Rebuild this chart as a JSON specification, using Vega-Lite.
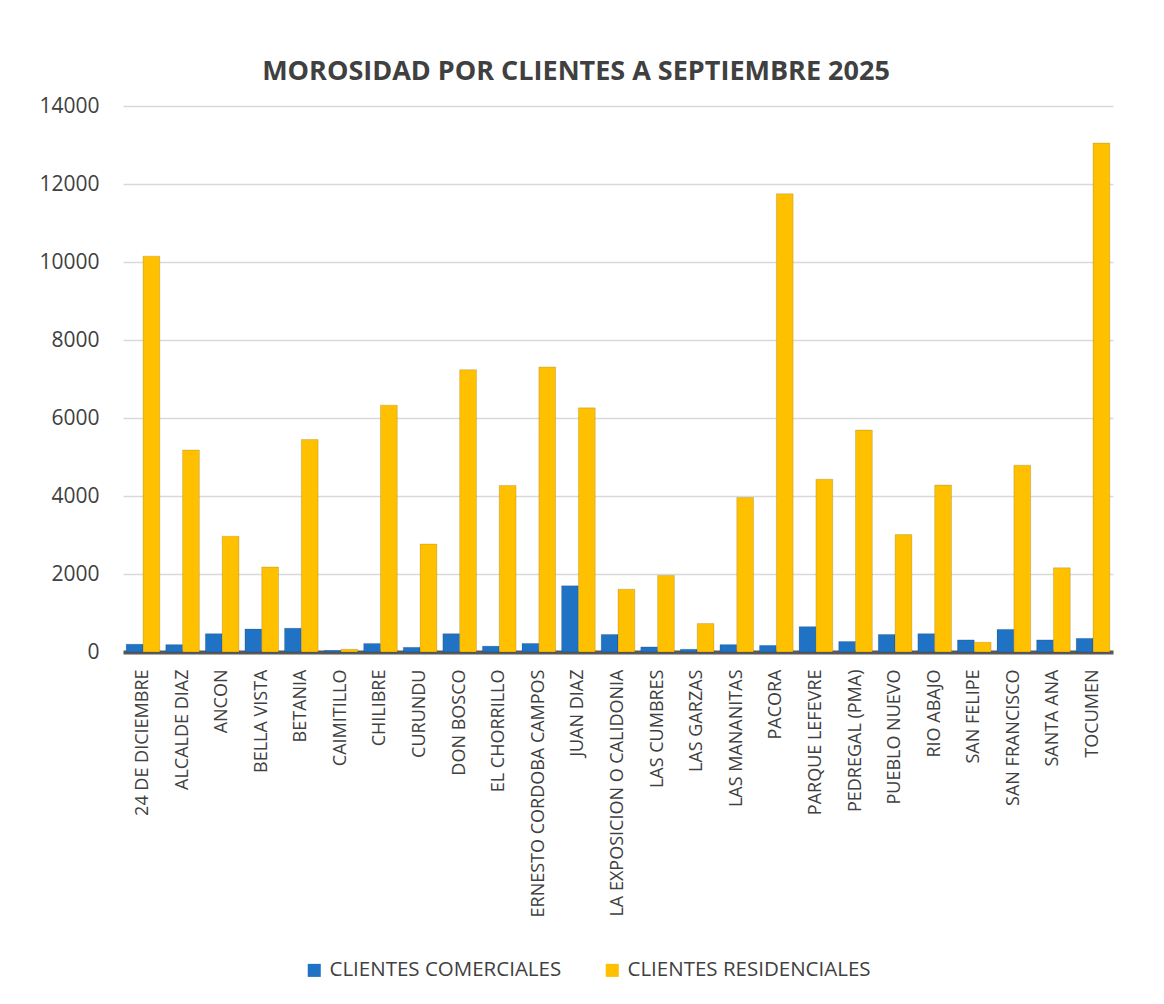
{
  "$schema": "https://vega.github.io/schema/vega-lite/v6.json",
  "width": 990,
  "height": 546,
  "padding": {"left": 38, "top": 58, "right": 40, "bottom": 10},
  "background": "white",
  "title": {
    "text": "MOROSIDAD POR CLIENTES A SEPTIEMBRE 2025",
    "font": "Open Sans",
    "fontSize": 27,
    "fontWeight": "bold",
    "color": "#404040",
    "anchor": "middle",
    "frame": "bounds",
    "offset": 9
  },
  "data": {
    "values": [
      {"zona": "24 DE DICIEMBRE", "tipo": "CLIENTES COMERCIALES", "valor": 200},
      {"zona": "24 DE DICIEMBRE", "tipo": "CLIENTES RESIDENCIALES", "valor": 10150},
      {"zona": "ALCALDE DIAZ", "tipo": "CLIENTES COMERCIALES", "valor": 190},
      {"zona": "ALCALDE DIAZ", "tipo": "CLIENTES RESIDENCIALES", "valor": 5180},
      {"zona": "ANCON", "tipo": "CLIENTES COMERCIALES", "valor": 470},
      {"zona": "ANCON", "tipo": "CLIENTES RESIDENCIALES", "valor": 2970},
      {"zona": "BELLA VISTA", "tipo": "CLIENTES COMERCIALES", "valor": 590},
      {"zona": "BELLA VISTA", "tipo": "CLIENTES RESIDENCIALES", "valor": 2180},
      {"zona": "BETANIA", "tipo": "CLIENTES COMERCIALES", "valor": 610},
      {"zona": "BETANIA", "tipo": "CLIENTES RESIDENCIALES", "valor": 5450},
      {"zona": "CAIMITILLO", "tipo": "CLIENTES COMERCIALES", "valor": 40},
      {"zona": "CAIMITILLO", "tipo": "CLIENTES RESIDENCIALES", "valor": 70},
      {"zona": "CHILIBRE", "tipo": "CLIENTES COMERCIALES", "valor": 220},
      {"zona": "CHILIBRE", "tipo": "CLIENTES RESIDENCIALES", "valor": 6330},
      {"zona": "CURUNDU", "tipo": "CLIENTES COMERCIALES", "valor": 120},
      {"zona": "CURUNDU", "tipo": "CLIENTES RESIDENCIALES", "valor": 2770},
      {"zona": "DON BOSCO", "tipo": "CLIENTES COMERCIALES", "valor": 470},
      {"zona": "DON BOSCO", "tipo": "CLIENTES RESIDENCIALES", "valor": 7240},
      {"zona": "EL CHORRILLO", "tipo": "CLIENTES COMERCIALES", "valor": 150},
      {"zona": "EL CHORRILLO", "tipo": "CLIENTES RESIDENCIALES", "valor": 4270},
      {"zona": "ERNESTO CORDOBA CAMPOS", "tipo": "CLIENTES COMERCIALES", "valor": 220},
      {"zona": "ERNESTO CORDOBA CAMPOS", "tipo": "CLIENTES RESIDENCIALES", "valor": 7310},
      {"zona": "JUAN DIAZ", "tipo": "CLIENTES COMERCIALES", "valor": 1700},
      {"zona": "JUAN DIAZ", "tipo": "CLIENTES RESIDENCIALES", "valor": 6260},
      {"zona": "LA EXPOSICION O CALIDONIA", "tipo": "CLIENTES COMERCIALES", "valor": 450},
      {"zona": "LA EXPOSICION O CALIDONIA", "tipo": "CLIENTES RESIDENCIALES", "valor": 1610},
      {"zona": "LAS CUMBRES", "tipo": "CLIENTES COMERCIALES", "valor": 130},
      {"zona": "LAS CUMBRES", "tipo": "CLIENTES RESIDENCIALES", "valor": 1960},
      {"zona": "LAS GARZAS", "tipo": "CLIENTES COMERCIALES", "valor": 70},
      {"zona": "LAS GARZAS", "tipo": "CLIENTES RESIDENCIALES", "valor": 730},
      {"zona": "LAS MANANITAS", "tipo": "CLIENTES COMERCIALES", "valor": 190},
      {"zona": "LAS MANANITAS", "tipo": "CLIENTES RESIDENCIALES", "valor": 3960},
      {"zona": "PACORA", "tipo": "CLIENTES COMERCIALES", "valor": 170},
      {"zona": "PACORA", "tipo": "CLIENTES RESIDENCIALES", "valor": 11750},
      {"zona": "PARQUE LEFEVRE", "tipo": "CLIENTES COMERCIALES", "valor": 650},
      {"zona": "PARQUE LEFEVRE", "tipo": "CLIENTES RESIDENCIALES", "valor": 4430},
      {"zona": "PEDREGAL (PMA)", "tipo": "CLIENTES COMERCIALES", "valor": 270},
      {"zona": "PEDREGAL (PMA)", "tipo": "CLIENTES RESIDENCIALES", "valor": 5690},
      {"zona": "PUEBLO NUEVO", "tipo": "CLIENTES COMERCIALES", "valor": 450},
      {"zona": "PUEBLO NUEVO", "tipo": "CLIENTES RESIDENCIALES", "valor": 3010},
      {"zona": "RIO ABAJO", "tipo": "CLIENTES COMERCIALES", "valor": 470},
      {"zona": "RIO ABAJO", "tipo": "CLIENTES RESIDENCIALES", "valor": 4280},
      {"zona": "SAN FELIPE", "tipo": "CLIENTES COMERCIALES", "valor": 310},
      {"zona": "SAN FELIPE", "tipo": "CLIENTES RESIDENCIALES", "valor": 250},
      {"zona": "SAN FRANCISCO", "tipo": "CLIENTES COMERCIALES", "valor": 580},
      {"zona": "SAN FRANCISCO", "tipo": "CLIENTES RESIDENCIALES", "valor": 4790},
      {"zona": "SANTA ANA", "tipo": "CLIENTES COMERCIALES", "valor": 310},
      {"zona": "SANTA ANA", "tipo": "CLIENTES RESIDENCIALES", "valor": 2160},
      {"zona": "TOCUMEN", "tipo": "CLIENTES COMERCIALES", "valor": 350},
      {"zona": "TOCUMEN", "tipo": "CLIENTES RESIDENCIALES", "valor": 13050}
    ]
  },
  "mark": {"type": "bar", "stroke": "#00000022", "strokeWidth": 1},
  "encoding": {
    "x": {
      "field": "zona",
      "type": "nominal",
      "sort": null,
      "title": null,
      "scale": {"paddingInner": 0.15, "paddingOuter": 0.08},
      "axis": {
        "labelAngle": -90,
        "labelFont": "Open Sans",
        "labelFontSize": 18,
        "labelColor": "#404040",
        "labelPadding": 17,
        "ticks": false,
        "domainColor": "#595959",
        "domainWidth": 4,
        "labelLimit": 400
      }
    },
    "xOffset": {"field": "tipo", "type": "nominal", "sort": ["CLIENTES COMERCIALES", "CLIENTES RESIDENCIALES"]},
    "y": {
      "field": "valor",
      "type": "quantitative",
      "title": null,
      "scale": {"domain": [0, 14000], "nice": false},
      "axis": {
        "values": [0, 2000, 4000, 6000, 8000, 10000, 12000, 14000],
        "format": "d",
        "labelFont": "Open Sans",
        "labelFontSize": 21,
        "labelColor": "#404040",
        "labelPadding": 24,
        "ticks": false,
        "domain": false,
        "gridColor": "#D9D9D9",
        "gridWidth": 1.5
      }
    },
    "color": {
      "field": "tipo",
      "type": "nominal",
      "scale": {"domain": ["CLIENTES COMERCIALES", "CLIENTES RESIDENCIALES"], "range": ["#1F72C4", "#FFC000"]},
      "legend": {
        "title": null,
        "orient": "none",
        "direction": "horizontal",
        "legendX": 181,
        "legendY": 854,
        "symbolType": "square",
        "symbolSize": 170,
        "symbolStrokeWidth": 0,
        "labelFont": "Open Sans",
        "labelFontSize": 20.5,
        "labelColor": "#404040",
        "labelOffset": 5,
        "columnPadding": 40,
        "labelLimit": 400
      }
    }
  },
  "config": {
    "view": {"stroke": null}
  }
}
